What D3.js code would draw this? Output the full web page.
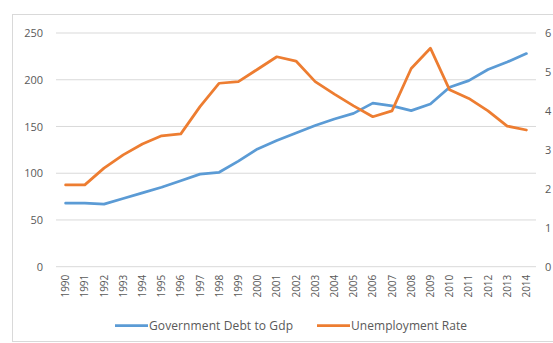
<!DOCTYPE html>
<html>
<head>
<meta charset="utf-8">
<script src="https://cdn.jsdelivr.net/npm/d3@7"></script>
<style>
  html, body { margin: 0; padding: 0; background: #fff; }
  svg { display: block; font-family: "Open Sans", sans-serif; }
</style>
</head>
<body>
<script>
// Years on the category axis
const years = ["1990","1991","1992","1993","1994","1995","1996","1997","1998","1999",
  "2000","2001","2002","2003","2004","2005","2006","2007","2008","2009",
  "2010","2011","2012","2013","2014"];

// Government debt to GDP (left axis)
const debtToGdp = [68, 68, 67, 73, 79, 85, 92, 99, 101, 113,
  126, 135, 143, 151, 158, 164, 175, 172, 167, 174,
  192, 199, 211, 219, 228];

// Unemployment rate (right axis)
const unemployment = [2.1, 2.1, 2.53, 2.87, 3.15, 3.36, 3.41, 4.11, 4.71, 4.75,
  5.07, 5.39, 5.28, 4.75, 4.43, 4.13, 3.85, 4.0, 5.09, 5.61,
  4.54, 4.32, 4.0, 3.61, 3.51];

const leftTicks = [0, 50, 100, 150, 200, 250];
const rightTicks = [0, 1, 2, 3, 4, 5, 6];

const seriesNames = ["Government Debt to Gdp", "Unemployment Rate"];
const colors = ["#5B9BD5", "#ED7D31"];

const W = 553, H = 343;
const plot = { left: 56, right: 536, top: 33, bottom: 266.7 };

const svg = d3.select("body").append("svg")
  .attr("width", W).attr("height", H);

// chart area outline
svg.append("rect")
  .attr("x", 12.5).attr("y", 14.5)
  .attr("width", 600).attr("height", 327)
  .attr("fill", "none").attr("stroke", "#D9D9D9").attr("stroke-width", 1);

const x = d3.scaleBand().domain(years).range([plot.left, plot.right]);
const yL = d3.scaleLinear().domain([0, 250]).range([plot.bottom, plot.top]);
const yR = d3.scaleLinear().domain([0, 6]).range([plot.bottom, plot.top]);

// horizontal gridlines from the left axis
svg.append("g").selectAll("line").data(leftTicks).join("line")
  .attr("x1", plot.left).attr("x2", plot.right)
  .attr("y1", d => yL(d)).attr("y2", d => yL(d))
  .attr("stroke", "#D9D9D9").attr("stroke-width", 1);

// left axis
const gL = svg.append("g")
  .attr("transform", `translate(${plot.left - 13},0)`)
  .call(d3.axisLeft(yL).tickValues(leftTicks).tickFormat(d3.format("d"))
    .tickSize(0).tickPadding(0));
gL.select(".domain").remove();
gL.selectAll("text").attr("fill", "#595959").style("font-size", "11px")
  .style("font-family", "'Open Sans', sans-serif");

// right axis
const gR = svg.append("g")
  .attr("transform", `translate(${plot.right + 9},0)`)
  .call(d3.axisRight(yR).tickValues(rightTicks).tickFormat(d3.format("d"))
    .tickSize(0).tickPadding(0));
gR.select(".domain").remove();
gR.selectAll("text").attr("fill", "#595959").style("font-size", "11px")
  .style("font-family", "'Open Sans', sans-serif");

// category axis with vertical labels
const gX = svg.append("g")
  .attr("transform", `translate(0,${plot.bottom})`)
  .call(d3.axisBottom(x).tickSize(0).tickPadding(0));
gX.select(".domain").remove();
gX.selectAll("text")
  .attr("fill", "#595959").style("font-size", "10px")
  .style("font-family", "'Open Sans', sans-serif")
  .attr("text-anchor", "end")
  .attr("dy", "0.35em")
  .attr("transform", "translate(0,8) rotate(-90)")
  .attr("x", 0).attr("y", 0);

const cx = d => x(d) + x.bandwidth() / 2;

const lineL = d3.line().x((d, i) => cx(years[i])).y(d => yL(d));
const lineR = d3.line().x((d, i) => cx(years[i])).y(d => yR(d));

svg.append("path").datum(debtToGdp)
  .attr("d", lineL).attr("fill", "none")
  .attr("stroke", colors[0]).attr("stroke-width", 2.75)
  .attr("stroke-linejoin", "round").attr("stroke-linecap", "round");

svg.append("path").datum(unemployment)
  .attr("d", lineR).attr("fill", "none")
  .attr("stroke", colors[1]).attr("stroke-width", 2.75)
  .attr("stroke-linejoin", "round").attr("stroke-linecap", "round");

// legend
const legendY = 325.5;
const legendItems = [
  { name: seriesNames[0], color: colors[0], x: 115, len: 144 },
  { name: seriesNames[1], color: colors[1], x: 317, len: 116 }
];
const lg = svg.append("g").selectAll("g").data(legendItems).join("g")
  .attr("transform", d => `translate(${d.x},${legendY})`);
lg.append("line").attr("x1", 0).attr("x2", 33).attr("y1", 0).attr("y2", 0)
  .attr("stroke", d => d.color).attr("stroke-width", 2.75);
lg.append("text").attr("x", 34).attr("y", 0).attr("dy", "0.35em")
  .attr("fill", "#595959").style("font-size", "12px")
  .attr("textLength", d => d.len).attr("lengthAdjust", "spacing")
  .text(d => d.name);
</script>
</body>
</html>
